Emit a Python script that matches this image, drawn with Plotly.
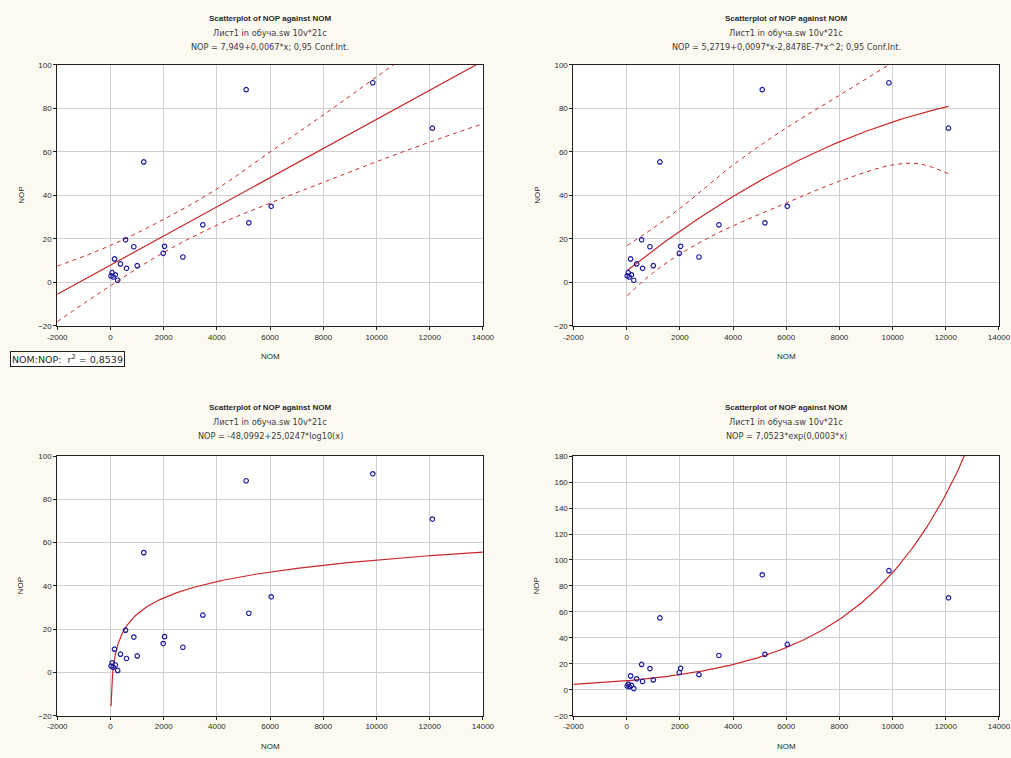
import numpy as np
import plotly.graph_objects as go

# ---- data ----
nom = [5100, 9860, 12100, 1250, 3470, 5200, 6040, 564, 877, 2030, 1980, 2720,
       150, 376, 600, 1003, 20, 60, 100, 180, 270]
nop = [88.6, 91.8, 70.9, 55.4, 26.5, 27.4, 35.0, 19.6, 16.4, 16.6, 13.4, 11.7,
       10.8, 8.5, 6.5, 7.7, 3.0, 4.5, 2.5, 3.5, 1.0]

titles = [
    "NOP = 7,949+0,0067*x; 0,95 Conf.Int.",
    "NOP = 5,2719+0,0097*x-2,8478E-7*x^2; 0,95 Conf.Int.",
    "NOP = -48,0992+25,0247*log10(x)",
    "NOP = 7,0523*exp(0,0003*x)",
]
title1 = "Scatterplot of NOP against NOM"
title2 = "Лист1 in обуча.sw 10v*21c"
legend_text = "NOM:NOP:  r<sup>2</sup> = 0,8539"

# model coefficients (from titles)
lin_a, lin_b = 7.949, 0.0067
quad_a, quad_b, quad_c = 5.2719, 0.0097, -2.8478e-7
log_a, log_b = -48.0992, 25.0247
exp_a, exp_b = 7.0523, 0.000255

# confidence band readings
lin_ci_x = [-2000, 0, 2000, 4000, 6000, 8000, 10000, 12000, 14000]
lin_ci_up = [7.5, 17, 29, 43, 60, 77, 94.5, 112, 130]
lin_ci_lo = [-18, -1.5, 13.8, 26.3, 36.5, 46, 55.5, 64.5, 73]
quad_ci_x = [20, 1000, 2000, 3000, 4000, 6000, 8000, 10000, 11000, 12100]
quad_ci_up = [17, 25, 34, 44, 54, 71, 86, 101, 108, 116]
quad_ci_lo = [-6, 4.5, 13, 20, 26, 36.5, 46.5, 54, 54.5, 50]

x_ticks = list(range(-2000, 14001, 2000))

FONT = "Liberation Sans"
WIDE = "DejaVu Sans"
RED = "#c8282a"
BLUE = "#1c1c9c"
TXT = "#2a2a2a"
TXT2 = "#3c3c3c"
W, H = 1011, 758

# screen-pixel -> paper fraction (compensates the measured render mapping)
SX, OX, SY, OY = 0.978, 9.7, 0.988, 4.6

def PX(px):
    return (px - OX) / SX / W

def PY(py):
    return 1 - (py - OY) / SY / H

cols = [(57, 482.5), (573, 998.5)]
rows = [(65.5, 326.5), (456.6, 716.4)]
title_rows = [(19, 33.5, 48), (408, 422.5, 437)]

fig = go.Figure()

panels = [(0, 0), (0, 1), (1, 0), (1, 1)]
for i, (r, c) in enumerate(panels):
    n = i + 1
    xa = "x" if n == 1 else f"x{n}"
    ya = "y" if n == 1 else f"y{n}"
    yr = [-20, 180] if n == 4 else [-20, 100]
    axis_common = dict(
        showgrid=True, gridcolor="#cfcfcf", gridwidth=1,
        showline=True, linecolor="#202020", linewidth=1, mirror=True,
        ticks="outside", ticklen=3, tickcolor="#202020",
        tickfont=dict(family=FONT, size=8, color=TXT),
        zeroline=False, fixedrange=True,
    )
    fig.layout[f"xaxis{'' if n == 1 else n}"] = dict(
        domain=[PX(cols[c][0]), min(1.0, PX(cols[c][1]))], anchor=ya, range=[-2000, 14000],
        tickvals=x_ticks, ticktext=[str(v) for v in x_ticks], **axis_common)
    fig.layout[f"yaxis{'' if n == 1 else n}"] = dict(
        domain=[PY(rows[r][1]), PY(rows[r][0])], anchor=xa, range=yr, dtick=20, **axis_common)

    dash = dict(color=RED, width=1, dash="4px,4px", shape="spline")
    if n == 1:
        fig.add_trace(go.Scatter(x=lin_ci_x, y=lin_ci_up, mode="lines", xaxis=xa, yaxis=ya, line=dash))
        fig.add_trace(go.Scatter(x=lin_ci_x, y=lin_ci_lo, mode="lines", xaxis=xa, yaxis=ya, line=dash))
        xs = np.linspace(-2000, 14000, 50)
        ys = lin_a + lin_b * xs
    elif n == 2:
        fig.add_trace(go.Scatter(x=quad_ci_x, y=quad_ci_up, mode="lines", xaxis=xa, yaxis=ya, line=dash))
        fig.add_trace(go.Scatter(x=quad_ci_x, y=quad_ci_lo, mode="lines", xaxis=xa, yaxis=ya, line=dash))
        xs = np.linspace(min(nom), max(nom), 120)
        ys = quad_a + quad_b * xs + quad_c * xs ** 2
    elif n == 3:
        xs = np.concatenate([np.linspace(min(nom), 500, 120), np.linspace(500, 14000, 200)])
        ys = log_a + log_b * np.log10(xs)
    else:
        xs = np.linspace(-2000, 14000, 200)
        ys = exp_a * np.exp(exp_b * xs)
    fig.add_trace(go.Scatter(x=xs, y=ys, mode="lines", xaxis=xa, yaxis=ya,
                             line=dict(color=RED, width=1.2)))
    fig.add_trace(go.Scatter(x=nom, y=nop, mode="markers", xaxis=xa, yaxis=ya,
                             marker=dict(symbol="circle-open", size=4.5, color=BLUE,
                                         line=dict(width=1.2, color=BLUE))))

    cx = (cols[c][0] + cols[c][1]) / 2
    lines = [(f"<b>{title1}</b>", FONT, 8, TXT), (title2, WIDE, 8.2, TXT2),
             (titles[i], WIDE, 8.2, TXT2)]
    for k, (txt, fam, sz, col) in enumerate(lines):
        fig.add_annotation(x=PX(cx), y=PY(title_rows[r][k]), xref="paper", yref="paper",
                           text=txt, showarrow=False,
                           font=dict(family=fam, size=sz, color=col),
                           xanchor="center", yanchor="middle")
    fig.add_annotation(x=PX(cx), y=PY(rows[r][1] + 31), xref="paper", yref="paper",
                       text="NOM", showarrow=False,
                       font=dict(family=FONT, size=8, color=TXT),
                       xanchor="center", yanchor="middle")
    fig.add_annotation(x=PX(cols[c][0] - 36), y=PY((rows[r][0] + rows[r][1]) / 2),
                       xref="paper", yref="paper", text="NOP", showarrow=False, textangle=-90,
                       font=dict(family=FONT, size=8, color=TXT),
                       xanchor="center", yanchor="middle")

fig.add_annotation(x=max(0.0, PX(8)), y=PY(360), xref="paper", yref="paper",
                   text=legend_text, showarrow=False,
                   font=dict(family=WIDE, size=9.5, color=TXT),
                   xanchor="left", yanchor="middle", bordercolor="#202020", borderwidth=1,
                   borderpad=1, bgcolor="white")

fig.update_layout(
    width=W, height=H, margin=dict(l=0, r=0, t=0, b=0),
    paper_bgcolor="#fcf9f1", plot_bgcolor="white", showlegend=False,
)

fig.write_html("out.html", config={"displayModeBar": False},
               post_script="document.body.style.margin='0';document.body.style.overflow='hidden';")
